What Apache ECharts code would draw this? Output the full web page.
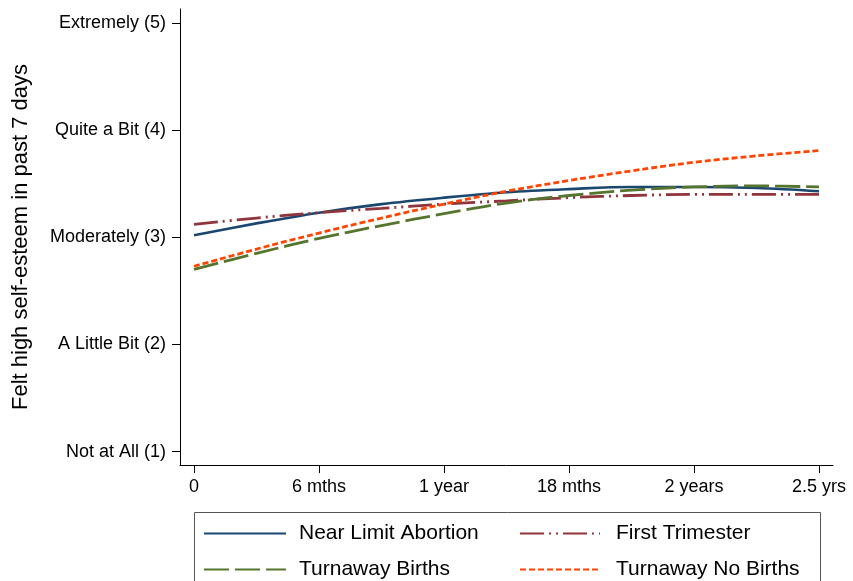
<!DOCTYPE html>
<html>
<head>
<meta charset="utf-8">
<script src="https://cdn.jsdelivr.net/npm/echarts@6/dist/echarts.min.js"></script>
<style>
html,body{margin:0;padding:0;background:#fff;}
#chart{width:853px;height:581px;}
</style>
</head>
<body>
<div id="chart"></div>
<script>
// months since baseline
var months = [0, 3, 6, 9, 12, 15, 18, 21, 24, 27, 30];
var nearLimit = [3.02, 3.13, 3.23, 3.31, 3.37, 3.42, 3.45, 3.47, 3.47, 3.46, 3.43];
var firstTrimester = [3.12, 3.18, 3.23, 3.27, 3.31, 3.34, 3.37, 3.39, 3.40, 3.40, 3.40];
var turnawayBirths = [2.70, 2.85, 2.99, 3.11, 3.22, 3.32, 3.39, 3.44, 3.47, 3.48, 3.47];
var turnawayNoBirths = [2.73, 2.89, 3.04, 3.18, 3.31, 3.43, 3.53, 3.62, 3.70, 3.76, 3.81];

var xTickValues = [0, 6, 12, 18, 24, 30];
var xTickLabels = ['0', '6 mths', '1 year', '18 mths', '2 years', '2.5 yrs'];
var yTickValues = [1, 2, 3, 4, 5];
var yTickLabels = ['Not at All (1)', 'A Little Bit (2)', 'Moderately (3)', 'Quite a Bit (4)', 'Extremely (5)'];

var seriesNames = ['Near Limit Abortion', 'First Trimester', 'Turnaway Births', 'Turnaway No Births'];

function pairs(vals){ return months.map(function(m,i){ return [m, vals[i]]; }); }

var FONT = 'Liberation Sans, Arial, Helvetica, sans-serif';
var chart = echarts.init(document.getElementById('chart'), null, {renderer:'canvas'});

function lineSeries(name, vals, color, type, width){
  return {
    name: name, type: 'line', data: pairs(vals), smooth: 0.35,
    symbol: 'none', showSymbol: false,
    lineStyle: {color: color, width: width, type: type},
    itemStyle: {color: color},
    z: 3
  };
}

function legendItem(name, left, top, textPad, w){
  return {
    data: [name],
    orient: 'horizontal', left: left, top: top, padding: 0,
    itemWidth: w, itemHeight: 14,
    itemStyle: {opacity: 0},
    textStyle: {color: '#000', fontFamily: FONT, fontSize: 21, padding: [0,0,0,textPad]}
  };
}

var option = {
  backgroundColor: '#fff',
  animation: false,
  grid: {left: 180, right: 20, top: 9, bottom: 116},
  xAxis: {
    type: 'value', min: -0.672, max: 30.67,
    axisLine: {show: true, onZero: false, lineStyle: {color: '#000', width: 1}},
    axisTick: {show: true, customValues: xTickValues, length: 8, lineStyle: {color: '#000'}},
    axisLabel: {
      show: true, customValues: xTickValues, margin: 13,
      color: '#000', fontFamily: FONT, fontSize: 18,
      formatter: function(v){ var i = xTickValues.indexOf(v); return i >= 0 ? xTickLabels[i] : ''; }
    },
    splitLine: {show: false}
  },
  yAxis: {
    type: 'value', min: 0.876, max: 5.13,
    name: 'Felt high self-esteem in past 7 days',
    nameLocation: 'middle', nameGap: 148, nameRotate: 90,
    nameTextStyle: {color: '#000', fontFamily: FONT, fontSize: 22},
    axisLine: {show: true, onZero: false, lineStyle: {color: '#000', width: 1}},
    axisTick: {show: true, customValues: yTickValues, length: 8, lineStyle: {color: '#000'}},
    axisLabel: {
      show: true, customValues: yTickValues, margin: 14,
      color: '#000', fontFamily: FONT, fontSize: 18,
      formatter: function(v){ var i = yTickValues.indexOf(v); return i >= 0 ? yTickLabels[i] : ''; }
    },
    splitLine: {show: false}
  },
  legend: [
    legendItem(seriesNames[0], 203, 523, 8, 82),
    legendItem(seriesNames[2], 203, 559, 8, 82),
    legendItem(seriesNames[1], 519, 523, 11, 80),
    legendItem(seriesNames[3], 519, 559, 11, 80)
  ],
  graphic: [
    {type: 'rect', shape: {x: 194.5, y: 512.5, width: 626, height: 80},
     style: {fill: 'none', stroke: '#555', lineWidth: 1}, silent: true, z: 1}
  ],
  series: [
    lineSeries(seriesNames[0], nearLimit, '#1a476f', 'solid', 2.6),
    lineSeries(seriesNames[1], firstTrimester, '#90353b', [24,5,2,5,2,5], 2.8),
    lineSeries(seriesNames[2], turnawayBirths, '#55752f', [25,6], 2.8),
    lineSeries(seriesNames[3], turnawayNoBirths, '#ff4500', [6,3], 2.8)
  ]
};
chart.setOption(option);
</script>
</body>
</html>
